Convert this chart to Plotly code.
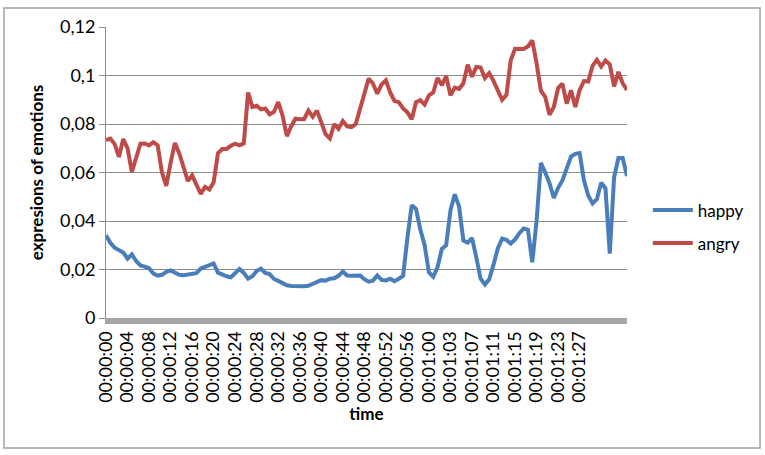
import plotly.graph_objects as go

# Tick labels (one label every 5 samples)
time_labels = ["00:00:00", "00:00:04", "00:00:08", "00:00:12", "00:00:16", "00:00:20",
               "00:00:24", "00:00:28", "00:00:32", "00:00:36", "00:00:40", "00:00:44",
               "00:00:48", "00:00:52", "00:00:56", "00:01:00", "00:01:03", "00:01:07",
               "00:01:11", "00:01:15", "00:01:19", "00:01:23", "00:01:27"]
label_step = 5

happy = [0.0341, 0.031, 0.029, 0.028, 0.027, 0.0245, 0.0262, 0.0235, 0.0217, 0.0212,
         0.0205, 0.0183, 0.0175, 0.0178, 0.019, 0.0196, 0.0187, 0.0178, 0.0176, 0.0179,
         0.018, 0.0185, 0.0204, 0.021, 0.0215, 0.0225, 0.0187, 0.0179, 0.0172, 0.0168,
         0.0183, 0.0202, 0.0186, 0.0162, 0.0172, 0.0194, 0.0203, 0.0186, 0.0181, 0.0161,
         0.0153, 0.0144, 0.0135, 0.0132, 0.0131, 0.0128, 0.0131, 0.0133, 0.014, 0.0149,
         0.0156, 0.0154, 0.0162, 0.0164, 0.0174, 0.0192, 0.0175, 0.0174, 0.0176, 0.0175,
         0.016, 0.015, 0.0154, 0.0175, 0.0157, 0.0155, 0.0162, 0.0152, 0.0162, 0.0174,
         0.033, 0.0465, 0.045, 0.0365, 0.03, 0.0188, 0.017, 0.021, 0.0285, 0.030,
         0.0444, 0.051, 0.046, 0.032, 0.031, 0.033, 0.025, 0.0162, 0.0138, 0.016,
         0.022, 0.0287, 0.0327, 0.0322, 0.0307, 0.0324, 0.035, 0.0369, 0.0364, 0.023,
         0.040, 0.064, 0.060, 0.0556, 0.0495, 0.0537, 0.0567, 0.0623, 0.0666, 0.0677,
         0.068, 0.0568, 0.0505, 0.0472, 0.049, 0.0558, 0.0535, 0.0265, 0.058, 0.066,
         0.066, 0.0585]

angry = [0.0733, 0.0740, 0.0718, 0.0664, 0.0738, 0.0700, 0.0602, 0.066, 0.0719, 0.072,
         0.0712, 0.0725, 0.0712, 0.0600, 0.0545, 0.064, 0.0722, 0.068, 0.0625, 0.0565,
         0.0588, 0.0545, 0.0512, 0.054, 0.053, 0.056, 0.068, 0.0697, 0.0697, 0.0710,
         0.0719, 0.0712, 0.072, 0.093, 0.087, 0.0875, 0.086, 0.0864, 0.084, 0.085,
         0.089, 0.0835, 0.075, 0.079, 0.0822, 0.082, 0.082, 0.0855, 0.083, 0.0855,
         0.081, 0.0758, 0.074, 0.080, 0.078, 0.0812, 0.079, 0.0787, 0.080, 0.086,
         0.093, 0.0987, 0.0967, 0.0925, 0.0963, 0.098, 0.093, 0.0895, 0.089, 0.0864,
         0.0848, 0.082, 0.089, 0.0898, 0.088, 0.0918, 0.093, 0.099, 0.096, 0.0997,
         0.0918, 0.095, 0.0945, 0.0968, 0.1045, 0.0995, 0.1035, 0.1033, 0.099, 0.101,
         0.0978, 0.0939, 0.090, 0.092, 0.1063, 0.111, 0.111, 0.1109, 0.112, 0.1145,
         0.105, 0.0937, 0.0912, 0.0838, 0.087, 0.0948, 0.0966, 0.0884, 0.0939, 0.087,
         0.094, 0.0977, 0.0975, 0.104, 0.1065, 0.1037, 0.1062, 0.1045, 0.0955, 0.1015,
         0.0968, 0.094]

y_ticks = [0, 0.02, 0.04, 0.06, 0.08, 0.1, 0.12]
y_tick_text = ["0", "0,02", "0,04", "0,06", "0,08", "0,1", "0,12"]

idx = list(range(len(happy)))
tick_pos = [i * label_step for i in range(len(time_labels))]

FONT = "Lato"
fig = go.Figure()
fig.add_trace(go.Scatter(x=idx, y=happy, mode="lines", name="happy",
                         line=dict(color="#4A7EBB", width=4), legendgroup="h"))
fig.add_trace(go.Scatter(x=idx, y=angry, mode="lines", name="angry",
                         line=dict(color="#BE4B48", width=4), legendgroup="a"))

fig.update_layout(
    width=765, height=455,
    margin=dict(l=106, r=138, t=27, b=137),
    paper_bgcolor="white", plot_bgcolor="white",
    font=dict(family=FONT, size=17, color="#000000"),
    showlegend=True,
    legend=dict(x=1.04, y=0.313, xanchor="left", yanchor="middle",
                font=dict(size=17), tracegroupgap=8, itemwidth=40,
                bgcolor="rgba(0,0,0,0)"),
    xaxis=dict(range=[0, len(happy) - 1], tickmode="array", tickvals=tick_pos,
               ticktext=time_labels, tickangle=-90, showgrid=False, zeroline=False,
               showline=True, linecolor="#A6A6A6", linewidth=6, ticks="",
               tickfont=dict(size=18),
               title=dict(text="<b>time</b>", font=dict(size=17), standoff=8)),
    yaxis=dict(range=[0, 0.12], tickmode="array", tickvals=y_ticks, ticktext=y_tick_text,
               showgrid=True, gridcolor="#8C8C8C", gridwidth=1, zeroline=False,
               showline=True, linecolor="#8C8C8C", linewidth=1,
               ticks="outside", ticklen=6, tickcolor="#8C8C8C",
               tickfont=dict(size=18),
               title=dict(text="<b>expresions of emotions</b>", font=dict(size=17), standoff=12)),
    shapes=[dict(type="rect", xref="paper", yref="paper",
                 x0=-0.1958, x1=1.2553, y0=-0.4467, y1=1.0653,
                 line=dict(color="#A0A0A0", width=1.5), fillcolor="rgba(0,0,0,0)")],
)

fig.write_html("out.html")
